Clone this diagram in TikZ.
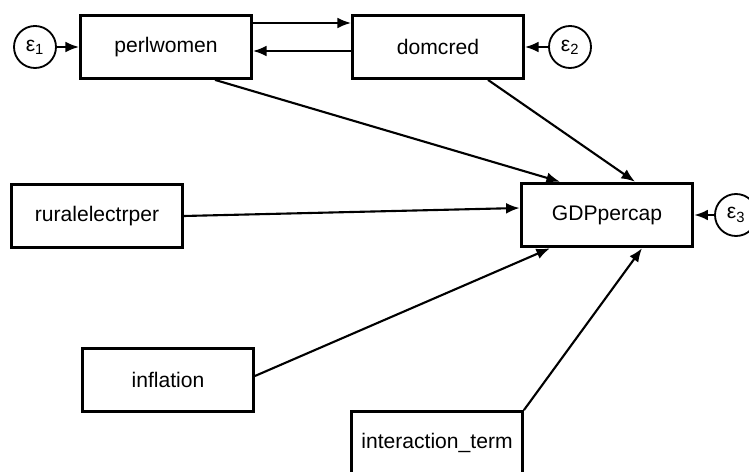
\documentclass[tikz,border=0pt]{standalone}
\usepackage{fontspec}
\setmainfont{Liberation Sans}
\usetikzlibrary{arrows.meta}
\tikzset{
  var/.style={draw, line width=2pt, minimum width=4.275cm, minimum height=1.575cm, inner sep=0pt, font=\fontsize{15}{18}\selectfont},
  errvar/.style={draw, circle, line width=1.3pt, minimum size=1.05cm, inner sep=0pt, font=\fontsize{15}{18}\selectfont},
  path/.style={->, line width=1.5pt}
}

\begin{document}
\begin{tikzpicture}[>={Latex[length=3.4mm, width=2.7mm]}, x=0.025cm, y=-0.025cm]
  \useasboundingbox (0,0) rectangle (749,472);
  \node[errvar] (e1) at (35,47) {ε\textsubscript{1}};
  \node[var] (perlwomen) at (166,47) {perlwomen};
  \node[var] (domcred) at (438,47) {domcred};
  \node[errvar] (e2) at (570,47) {ε\textsubscript{2}};
  \node[var] (ruralelectrper) at (97,216) {ruralelectrper};
  \node[var, line width=2.5pt] (GDPpercap) at (607,215) {GDPpercap};
  \node[errvar] (e3) at (736,215) {ε\textsubscript{3}};
  \node[var] (inflation) at (168,380) {inflation};
  \node[var] (interaction) at (437,443) {interaction\_term};
  \draw[path] (e1) -- (perlwomen);
  \draw[path] (e2) -- (domcred);
  \draw[path] (e3) -- (GDPpercap);
  \draw[path] ([yshift=0.6cm]perlwomen.east) -- ([yshift=0.6cm]domcred.west);
  \draw[path] ([yshift=-0.1cm]domcred.west) -- ([yshift=-0.1cm]perlwomen.east);
  \draw[path] ([xshift=1.225cm]perlwomen.south) -- ([xshift=-1.175cm]GDPpercap.north);
  \draw[path] ([xshift=1.25cm]domcred.south) -- ([xshift=0.7cm]GDPpercap.north);
  \draw[path] (ruralelectrper.east) -- ([yshift=0.175cm]GDPpercap.west);
  \draw[path] ([yshift=0.1cm]inflation.east) -- ([xshift=-1.425cm]GDPpercap.south);
  \draw[path] (interaction.north east) -- ([xshift=0.875cm]GDPpercap.south);
\end{tikzpicture}
\end{document}
